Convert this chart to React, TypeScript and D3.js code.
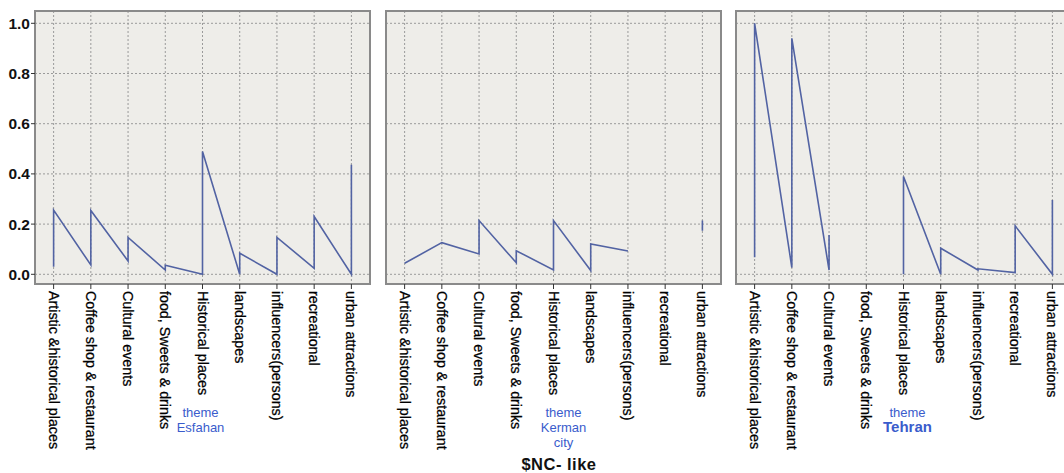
import React from "react";
import * as d3 from "d3";

const categories = [
  "Artistic &historical places",
  "Coffee shop & restaurant",
  "Cultural events",
  "food, Sweets & drinks",
  "Historical places",
  "landscapes",
  "influencers(persons)",
  "recreational",
  "urban attractions",
];

const yTicks = [0, 0.2, 0.4, 0.6, 0.8, 1.0];

// each category holds two readings: the first (start) and the second (end)
const esfahanStart = [0.03, 0.037, 0.053, 0.017, 0.0, 0.0, 0.0, 0.024, 0.0];
const esfahanEnd = [0.256, 0.254, 0.147, 0.036, 0.489, 0.084, 0.147, 0.23, 0.436];

const kermanStart = [0.044, 0.126, 0.081, 0.046, 0.017, 0.015, 0.093, null, 0.174];
const kermanEnd = [0.044, 0.126, 0.214, 0.094, 0.214, 0.121, 0.093, null, 0.214];

const tehranStart = [0.068, 0.027, 0.017, null, 0.0, 0.0, 0.017, 0.007, 0.0];
const tehranEnd = [1.0, 0.94, 0.157, null, 0.39, 0.104, 0.022, 0.193, 0.296];

const themeLabels = [["theme", "Esfahan"], ["theme", "Kerman", "city"], ["theme", "Tehran"]];

const panels = [
  { start: esfahanStart, end: esfahanEnd, labels: themeLabels[0] },
  { start: kermanStart, end: kermanEnd, labels: themeLabels[1] },
  { start: tehranStart, end: tehranEnd, labels: themeLabels[2] },
];

const W = 1064;
const H = 473;
const frameTop = 11;
const frameBottom = 284;
const panelLefts = [35, 386, 736];
const panelWidth = 335;

const FONT = "Liberation Sans, Arial, sans-serif";
const LINE = "#5263a3";
const BLUE = "#3a5ccc";

export default function App() {
  const y = d3.scaleLinear().domain([0, 1]).range([274.3, 23.3]);

  return (
    <svg
      width={W}
      height={H}
      style={{ position: "absolute", left: 0, top: 0, background: "#fff" }}
      fontFamily={FONT}
    >
      {panels.map((p, pi) => {
        const left = panelLefts[pi];
        const x = d3
          .scalePoint<string>()
          .domain(categories)
          .range([left, left + panelWidth])
          .padding(0.5);
        const pts: { x: number; v: number | null }[] = [];
        categories.forEach((c, i) => {
          pts.push({ x: x(c)!, v: p.start[i] });
          pts.push({ x: x(c)!, v: p.end[i] });
        });
        const line = d3
          .line<{ x: number; v: number | null }>()
          .defined((d) => d.v !== null)
          .x((d) => d.x)
          .y((d) => y(d.v as number));
        const cx = left + panelWidth / 2;
        return (
          <g key={pi}>
            <rect
              x={left}
              y={frameTop}
              width={panelWidth}
              height={frameBottom - frameTop}
              fill="#eeede9"
            />
            {yTicks.map((t) => (
              <line
                key={"h" + t}
                x1={left}
                x2={left + panelWidth}
                y1={y(t)}
                y2={y(t)}
                stroke="#9a9a9a"
                strokeWidth={1}
                strokeDasharray="2,2"
              />
            ))}
            {categories.map((c) => (
              <line
                key={"v" + c}
                x1={x(c)}
                x2={x(c)}
                y1={frameTop}
                y2={frameBottom}
                stroke="#9a9a9a"
                strokeWidth={1}
                strokeDasharray="2,2"
              />
            ))}
            <path d={line(pts) || ""} fill="none" stroke={LINE} strokeWidth={1.6} />
            <rect
              x={left}
              y={frameTop}
              width={panelWidth}
              height={frameBottom - frameTop}
              fill="none"
              stroke="#8a8a8a"
              strokeWidth={2}
            />
            {categories.map((c) => (
              <g key={"t" + c}>
                <line
                  x1={x(c)}
                  x2={x(c)}
                  y1={frameBottom}
                  y2={frameBottom + 5}
                  stroke="#333"
                  strokeWidth={1}
                />
                <text
                  transform={`translate(${x(c)},${frameBottom + 7}) rotate(90)`}
                  fontSize={14.3}
                  fill="#000"
                  stroke="#000"
                  strokeWidth={0.25}
                  dominantBaseline="central"
                  textAnchor="start"
                >
                  {c}
                </text>
              </g>
            ))}
            {p.labels.map((s, li) => (
              <text
                key={"l" + li}
                x={cx + (pi === 0 ? -2 : pi === 1 ? 10 : 4)}
                y={417 + li * 15}
                textAnchor="middle"
                fill={BLUE}
                fontSize={pi === 2 && li === 1 ? 15 : 13}
                fontWeight={pi === 2 && li === 1 ? "bold" : "normal"}
              >
                {s}
              </text>
            ))}
          </g>
        );
      })}
      {yTicks.map((t) => (
        <g key={"yt" + t}>
          <line x1={31} x2={35} y1={y(t)} y2={y(t)} stroke="#333" strokeWidth={1} />
          <text
            x={30}
            y={y(t)}
            textAnchor="end"
            dominantBaseline="central"
            fontSize={15.5}
            fontWeight="bold"
            fill="#111"
          >
            {d3.format(".1f")(t)}
          </text>
        </g>
      ))}
      <text
        x={559}
        y={470}
        textAnchor="middle"
        fontSize={16.5}
        fontWeight="bold"
        fill="#111"
        letterSpacing={0.5}
      >
        $NC- like
      </text>
    </svg>
  );
}
